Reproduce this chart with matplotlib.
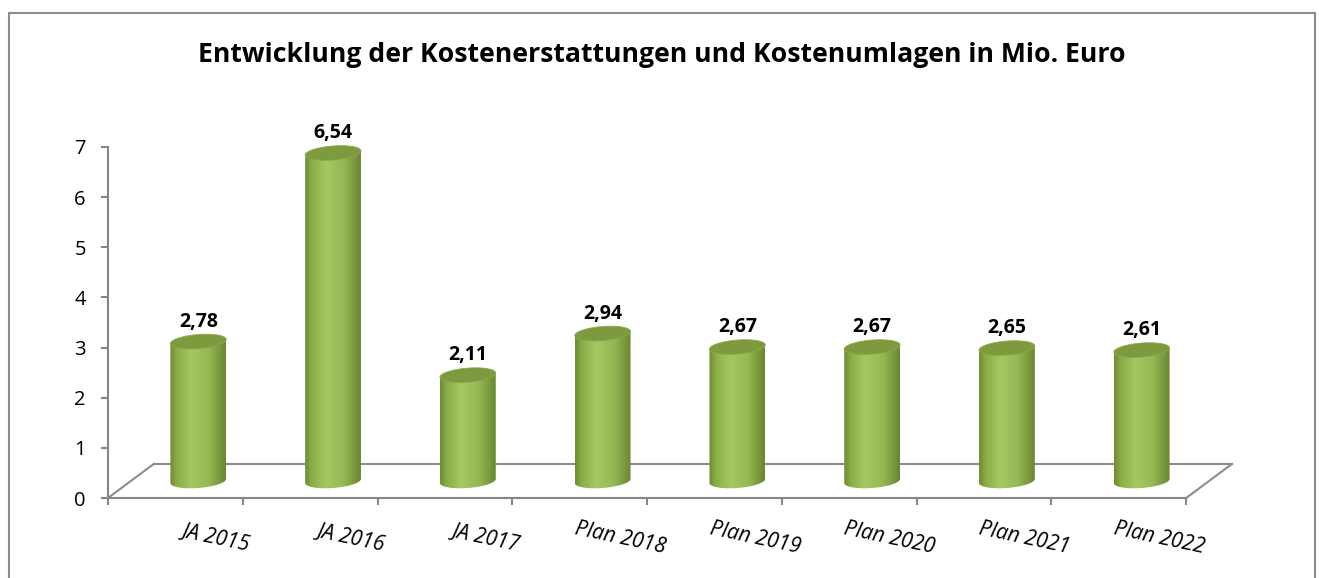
import numpy as np
import matplotlib
matplotlib.use("Agg")
from matplotlib import pyplot as plt
from matplotlib.path import Path
from matplotlib.patches import PathPatch, Polygon, Rectangle
from matplotlib.colors import LinearSegmentedColormap
from matplotlib.transforms import offset_copy

plt.rcParams['font.family'] = ['Open Sans', 'DejaVu Sans']

categories = ['JA 2015', 'JA 2016', 'JA 2017', 'Plan 2018', 'Plan 2019',
              'Plan 2020', 'Plan 2021', 'Plan 2022']
values = [2.78, 6.54, 2.11, 2.94, 2.67, 2.67, 2.65, 2.61]
value_labels = ['2,78', '6,54', '2,11', '2,94', '2,67', '2,67', '2,65', '2,61']
title = 'Entwicklung der Kostenerstattungen und Kostenumlagen in Mio. Euro'

W, H = 1319, 578
fig = plt.figure(figsize=(W / 100, H / 100), dpi=100)

# outer chart border
fig.patches.append(Rectangle((9 / W, -0.01), 1306 / W, 1 - 13 / H + 0.01,
                             transform=fig.transFigure, fill=False,
                             edgecolor='#8c8c8c', lw=1.5))

# floor depth offsets (data units)
dx, dy = 0.34, 0.68
n = len(categories)

ax = fig.add_axes([108 / W, (H - 498) / H, 1124 / W, 351 / H])
ax.set_xlim(0, n + dx)
ax.set_ylim(0, 7)
ax.patch.set_alpha(0)

for s in ['top', 'right']:
    ax.spines[s].set_visible(False)
ax.spines['left'].set_color('#868686')
ax.spines['left'].set_linewidth(1.5)
ax.spines['bottom'].set_color('#868686')
ax.spines['bottom'].set_linewidth(1.5)
ax.spines['bottom'].set_bounds(0, n)
ax.set_yticks(range(8))
ax.set_xticks(range(n + 1))
ax.set_xticklabels([])
ax.tick_params(axis='y', colors='#868686', length=5, width=1.5, pad=11,
               labelsize=14.5, labelcolor='black')
ax.tick_params(axis='x', colors='#868686', length=5, width=1.5)

# floor outline
floor_kw = dict(color='#8c8c8c', lw=1.5, clip_on=False)
ax.plot([dx, n + dx], [dy, dy], **floor_kw)
ax.plot([0, dx], [0, dy], **floor_kw)
ax.plot([n, n + dx], [0, dy], **floor_kw)

# cylinders
cmap = LinearSegmentedColormap.from_list(
    'cyl', [(0.0, '#6d8a33'), (0.12, '#8aad48'), (0.38, '#a4c862'),
            (0.7, '#94b853'), (1.0, '#6a8530')])
a, b, tilt = 0.207, 0.14, 0.2
t = np.linspace(np.pi, 2 * np.pi, 60)
grad = np.linspace(0, 1, 256)[np.newaxis, :]

for i, v in enumerate(values):
    cx = i + 0.5 + dx / 2
    yb = dy / 2
    yt = yb + v
    ex = cx + a * np.cos(t)
    ey_b = yb + b * np.sin(t) + tilt * (ex - cx)
    verts = ([(cx - a, yt - tilt * a)] + list(zip(ex, ey_b))
             + [(cx + a, yt + tilt * a), (cx - a, yt - tilt * a)])
    codes = [Path.MOVETO] + [Path.LINETO] * (len(verts) - 2) + [Path.CLOSEPOLY]
    body = PathPatch(Path(verts, codes), facecolor='none', edgecolor='none')
    ax.add_patch(body)
    im = ax.imshow(grad, cmap=cmap, aspect='auto',
                   extent=[cx - a, cx + a, yb - b - 0.2, yt + 0.1],
                   zorder=3, interpolation='bilinear')
    im.set_clip_path(body)
    # top cap
    tt = np.linspace(0, 2 * np.pi, 120)
    tx = cx + a * np.cos(tt)
    ty = yt + b * np.sin(tt) + tilt * (tx - cx)
    ax.add_patch(Polygon(np.column_stack([tx, ty]), closed=True,
                         facecolor='#7d9a3e', edgecolor='#8aa84a', lw=0.6,
                         zorder=4, clip_on=False))
    ax.annotate(value_labels[i], (cx, yt + b), xytext=(0, 2),
                textcoords='offset points', ha='center', va='bottom',
                fontsize=14, fontweight='bold', zorder=5,
                annotation_clip=False)

ax.set_xlim(0, n + dx)
ax.set_ylim(0, 7)

# category labels
lab_tr = offset_copy(ax.transData, fig=fig, x=0, y=-40, units='dots')
for i, c in enumerate(categories):
    ax.text(i + 0.8, 0, c, transform=lab_tr, ha='center', va='center',
            rotation=-12, rotation_mode='anchor', fontsize=15,
            style='italic')

fig.text(662 / W, 1 - 55 / H, title, ha='center', va='center',
         fontsize=19.2, fontweight='bold')

fig.savefig('out.png', dpi=100)
